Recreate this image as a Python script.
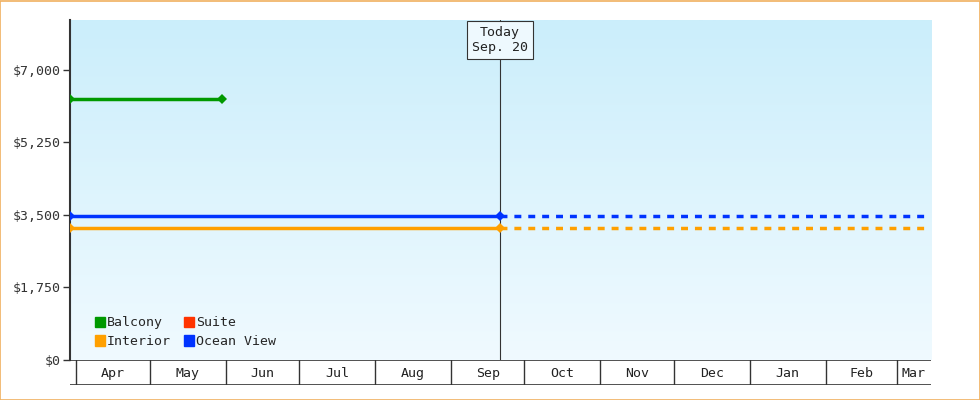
import numpy as np, pandas as pd, matplotlib
matplotlib.use("Agg")
import matplotlib.pyplot as plt, seaborn as sns
from matplotlib.patches import Rectangle
from matplotlib.colors import LinearSegmentedColormap

sns.set_style("white")
plt.rcParams['font.family'] = ['DejaVu Sans Mono']

months = ["Apr","May","Jun","Jul","Aug","Sep","Oct","Nov","Dec","Jan","Feb","Mar"]
month_start_day = [0,30,61,91,122,153,183,214,244,275,306,335]  # days since Apr 1
today_day = 173
balcony_days = [-2.5, 59.6]; balcony_vals = [6300, 6300]
ocean_days = [-2.5, today_day]; ocean_vals = [3475, 3475]
interior_days = [-2.5, today_day]; interior_vals = [3190, 3190]
xmin, xmax = -2.5, 349
ytop = 8200

fig = plt.figure(figsize=(9.8, 4.0), dpi=100)
fig.patches.append(Rectangle((0.0005, 0.001), 0.999, 0.997, transform=fig.transFigure,
                             fill=False, edgecolor="#f0b060", lw=1.2))
ax = fig.add_axes([70/980, 40/400, 861/980, 340/400])
grad = np.linspace(0, 1, 256).reshape(-1, 1)
cm = LinearSegmentedColormap.from_list("g", ["#f0faff", "#cbeefb"])
ax.imshow(grad, aspect="auto", cmap=cm, origin="lower", extent=[xmin, xmax, 0, ytop], zorder=0)
ax.set_xlim(xmin, xmax); ax.set_ylim(0, ytop)

df = pd.concat([
    pd.DataFrame({"d": balcony_days, "v": balcony_vals, "s": "Balcony"}),
    pd.DataFrame({"d": interior_days, "v": interior_vals, "s": "Interior"}),
    pd.DataFrame({"d": ocean_days, "v": ocean_vals, "s": "Ocean View"}),
])
pal = {"Balcony": "#009900", "Interior": "#ffa000", "Ocean View": "#0033ff"}
sns.lineplot(data=df, x="d", y="v", hue="s", palette=pal, marker="D", markersize=5,
             markeredgewidth=0, lw=2.5, legend=False, ax=ax, zorder=3)
for name, vals in [("Interior", interior_vals), ("Ocean View", ocean_vals)]:
    ax.plot([today_day, xmax], [vals[0]]*2, ls=(0, (2, 2)), lw=2.5, color=pal[name], zorder=3)
ax.set_xlabel(""); ax.set_ylabel("")

ax.axvline(today_day, color="#333333", lw=0.8, zorder=2)
ax.text(today_day, 7720, "Today\nSep. 20", ha="center", va="center", fontsize=9.5,
        color="#222", bbox=dict(boxstyle="square,pad=0.4", fc="#eef9fe", ec="#333", lw=0.8), zorder=4)

ax.set_yticks([0, 1750, 3500, 5250, 7000])
ax.set_yticklabels(["$0", "$1,750", "$3,500", "$5,250", "$7,000"], fontsize=9.5, color="#333")
ax.tick_params(axis="y", length=5, width=1, color="#333", pad=2, left=True)
ax.set_xticks([])
for s in ["top", "right", "bottom"]:
    ax.spines[s].set_visible(False)
ax.spines["left"].set_color("#333"); ax.spines["left"].set_linewidth(1.5)

# month boxes
bx = fig.add_axes([70/980, 15/400, 861/980, 25/400])
bx.set_xlim(xmin, xmax); bx.set_ylim(0, 1); bx.axis("off")
bx.plot([xmin, xmax], [0, 0], color="#333", lw=1.2)
bx.plot([xmin, xmax], [1, 1], color="#333", lw=1.2)
edges = month_start_day + [xmax]
for i, m in enumerate(months):
    bx.plot([edges[i]]*2, [0, 1], color="#333", lw=1)
    bx.text((edges[i] + edges[i+1]) / 2, 0.45, m, ha="center", va="center", fontsize=9.5, color="#222")

handles = [Rectangle((0, 0), 1, 1, color=c) for c in ["#009900", "#ffa000", "#ff3300", "#0033ff"]]
ax.legend(handles, ["Balcony", "Interior", "Suite", "Ocean View"], ncol=2, loc="lower left",
          bbox_to_anchor=(0.015, 0.0), frameon=False, handlelength=0.8, handleheight=0.8,
          handletextpad=0.1, columnspacing=1.0, fontsize=9.5, labelspacing=0.45)
fig.savefig("out.png", dpi=100)
